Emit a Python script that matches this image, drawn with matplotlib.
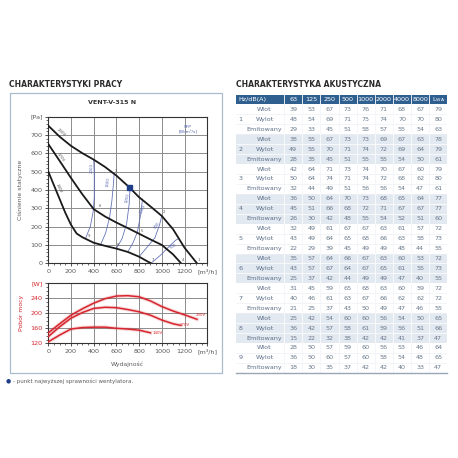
import matplotlib
matplotlib.use("Agg")
import matplotlib.pyplot as plt
from matplotlib.patches import Rectangle
from matplotlib.ticker import MultipleLocator

# ---------------- data ----------------
fan_230_q = [0, 100, 200, 300, 400, 500, 600, 700, 800, 900, 1000, 1100, 1200, 1310]
fan_230_p = [750, 690, 640, 600, 565, 525, 478, 422, 360, 310, 258, 185, 85, 0]
fan_170_q = [0, 100, 200, 300, 400, 500, 600, 700, 800, 900, 1000, 1100, 1170]
fan_170_p = [650, 558, 465, 376, 295, 255, 222, 192, 161, 130, 100, 48, 0]
fan_140_q = [0, 50, 100, 150, 200, 250, 300, 400, 500, 600, 700, 800, 860, 905]
fan_140_p = [500, 425, 350, 275, 210, 162, 142, 112, 95, 80, 62, 36, 15, 0]
fan_labels = ["230V", "170V", "140V"]

sfp_names = ["2000", "1500", "1250", "1000", "800", "500"]
sfp_q = [[330, 370, 395, 405, 405, 400],
         [460, 505, 540, 560, 572, 580],
         [600, 650, 690, 712, 720],
         [700, 745, 785, 815, 830],
         [800, 880, 940, 980, 1000],
         [905, 990, 1070, 1120, 1150]]
sfp_p = [[138, 200, 280, 360, 480, 565],
         [100, 165, 250, 340, 420, 487],
         [80, 135, 215, 320, 410],
         [62, 110, 170, 270, 350],
         [36, 95, 140, 210, 258],
         [0, 45, 95, 125, 135]]

best_q, best_p = 714, 414
op_nums = ["1", "2", "3", "4", "5", "6", "7", "8", "9"]
op_q = [1310, 1000, 580, 1170, 808, 440, 905, 600, 338]
op_p = [0, 260, 487, 0, 160, 292, 0, 80, 132]

pow_230_q = [0, 100, 200, 300, 400, 500, 600, 700, 800, 900, 1000, 1100, 1200, 1310]
pow_230_w = [148, 172, 195, 212, 227, 239, 246, 247, 244, 233, 218, 206, 196, 184]
pow_170_q = [0, 100, 200, 300, 400, 500, 600, 700, 800, 900, 1000, 1100, 1165]
pow_170_w = [138, 164, 187, 202, 213, 216, 215, 210, 204, 195, 182, 172, 168]
pow_140_q = [0, 100, 200, 300, 400, 500, 600, 700, 800, 900]
pow_140_w = [124, 142, 158, 162, 163, 163, 160, 158, 155, 148]

x_ticks = [0, 200, 400, 600, 800, 1000, 1200, 1400]
x_ticklabels = ["0", "200", "400", "600", "800", "1000", "1200", "[m³/h]"]
p_ticks = [0, 100, 200, 300, 400, 500, 600, 700, 800]
p_ticklabels = ["0", "100", "200", "300", "400", "500", "600", "700", "[Pa]"]
w_ticks = [120, 160, 200, 240, 280]
w_ticklabels = ["120", "160", "200", "240", "[W]"]

freq_headers = ["63", "125", "250", "500", "1000", "2000", "4000", "8000", r"L$_{\mathrm{WA}}$"]
row_kinds = ["Wlot", "Wylot", "Emitowany"]
groups = ["1", "2", "3", "4", "5", "6", "7", "8", "9"]
levels = [
    [39, 53, 67, 73, 76, 71, 68, 67, 79], [48, 54, 69, 71, 75, 74, 70, 70, 80], [29, 33, 45, 51, 58, 57, 55, 54, 63],
    [38, 55, 67, 73, 73, 69, 67, 63, 78], [49, 55, 70, 71, 74, 72, 69, 64, 79], [28, 35, 45, 51, 55, 55, 54, 50, 61],
    [42, 64, 71, 73, 74, 70, 67, 60, 79], [50, 64, 74, 71, 74, 72, 68, 62, 80], [32, 44, 49, 51, 56, 56, 54, 47, 61],
    [36, 50, 64, 70, 73, 68, 65, 64, 77], [45, 51, 66, 68, 72, 71, 67, 67, 77], [26, 30, 42, 48, 55, 54, 52, 51, 60],
    [32, 49, 61, 67, 67, 63, 61, 57, 72], [43, 49, 64, 65, 68, 66, 63, 58, 73], [22, 29, 39, 45, 49, 49, 48, 44, 55],
    [35, 57, 64, 66, 67, 63, 60, 53, 72], [43, 57, 67, 64, 67, 65, 61, 55, 73], [25, 37, 42, 44, 49, 49, 47, 40, 55],
    [31, 45, 59, 65, 68, 63, 60, 59, 72], [40, 46, 61, 63, 67, 66, 62, 62, 72], [21, 25, 37, 43, 50, 49, 47, 46, 55],
    [25, 42, 54, 60, 60, 56, 54, 50, 65], [36, 42, 57, 58, 61, 59, 56, 51, 66], [15, 22, 32, 38, 42, 42, 41, 37, 47],
    [28, 50, 57, 59, 60, 56, 53, 46, 64], [36, 50, 60, 57, 60, 58, 54, 48, 65], [18, 30, 35, 37, 42, 42, 40, 33, 47],
]

# ---------------- style ----------------
plt.rcParams['font.family'] = ['DejaVu Sans']
NARROW = ['Liberation Sans Narrow', 'DejaVu Sans']
W = H = 458.0
def fx(px): return px / W
def fy(py): return 1 - py / H

GRAY = '#5a5a5a'
RED = '#d7262e'
BLUE = '#5566b0'
NAVY = '#1f3c88'
HEAD = '#2f5f8f'

fig = plt.figure(figsize=(4.58, 4.58), dpi=100)
fig.patch.set_facecolor('white')

# titles
fig.text(fx(9), fy(85), "CHARAKTERYSTYKI PRACY", fontsize=5.5, fontweight='bold',
         family=NARROW, color='#2b2b2b', va='center', ha='left')
fig.text(fx(236), fy(85), "CHARAKTERYSTYKA AKUSTYCZNA", fontsize=5.5, fontweight='bold',
         family=NARROW, color='#2b2b2b', va='center', ha='left')

# outer frame of the left panel
fig.patches.append(Rectangle((fx(10), fy(373)), fx(222) - fx(10), fy(93) - fy(373),
                             transform=fig.transFigure, fill=False, ec='#a9bccd', lw=0.9))
fig.text(fx(112), fy(103), "VENT-V-315 N", fontsize=4.6, fontweight='bold', family=NARROW,
         color='#333333', ha='center', va='center')

def style_axis(ax, tick_color):
    for s in ax.spines.values():
        s.set_color('#333333')
        s.set_linewidth(0.8)
    ax.grid(True, which='major', color='#8c8c8c', lw=0.7)
    ax.set_axisbelow(True)
    ax.tick_params(axis='both', which='major', length=2, width=0.6, pad=2, labelsize=4.6,
                   colors='#333333')
    ax.tick_params(axis='both', which='minor', length=1.2, width=0.5, colors='#333333')
    ax.tick_params(axis='x', labelcolor=GRAY)
    ax.tick_params(axis='y', labelcolor=tick_color)

# ---- pressure chart ----
ax1 = fig.add_axes([fx(48.3), fy(263.3), fx(207.2) - fx(48.3), fy(116.5) - fy(263.3)])
ax1.set_xlim(0, 1400)
ax1.set_ylim(0, 800)
ax1.set_xticks(x_ticks)
ax1.set_xticklabels(x_ticklabels)
ax1.set_yticks(p_ticks)
ax1.set_yticklabels(p_ticklabels)
ax1.xaxis.set_minor_locator(MultipleLocator(50))
ax1.yaxis.set_minor_locator(MultipleLocator(20))
style_axis(ax1, GRAY)
ax1.set_ylabel("Ciśnienie statyczne", fontsize=4.4, color=GRAY, labelpad=5)

for qs, ps in zip(sfp_q, sfp_p):
    ax1.plot(qs, ps, color=BLUE, lw=0.6, alpha=0.9, zorder=3)
sfp_lab_pos = [(382, 520, 88), (525, 445, 84), (700, 355, 80), (830, 295, 66), (960, 205, 55), (1100, 95, 30)]
for name, (lq, lp, rot) in zip(sfp_names, sfp_lab_pos):
    ax1.text(lq, lp, name, fontsize=2.8, color=BLUE, rotation=rot, ha='center', va='center', zorder=4)
ax1.text(1230, 730, "SFP\n[W/m³/s]", fontsize=3.2, color=BLUE, ha='center', va='center',
         linespacing=1.3, zorder=4)

ax1.plot(fan_230_q, fan_230_p, color='#1a1a1a', lw=1.3, zorder=5)
ax1.plot(fan_170_q, fan_170_p, color='#1a1a1a', lw=1.3, zorder=5)
ax1.plot(fan_140_q, fan_140_p, color='#1a1a1a', lw=1.3, zorder=5)
for name, (lq, lp, rot) in zip(fan_labels, [(115, 712, -40), (110, 575, -53), (90, 410, -66)]):
    ax1.text(lq, lp, name, fontsize=2.8, color='#555555', rotation=rot, ha='center', va='center', zorder=6)
for n, q, p in zip(op_nums, op_q, op_p):
    ax1.text(q + 18, p + 18, n, fontsize=2.8, color='#555555', ha='center', va='center', zorder=6)
ax1.plot([best_q], [best_p], marker='s', ms=3.6, color=NAVY, zorder=7)

# ---- power chart ----
ax2 = fig.add_axes([fx(48.3), fy(343.3), fx(207.2) - fx(48.3), fy(283.3) - fy(343.3)])
ax2.set_xlim(0, 1400)
ax2.set_ylim(120, 280)
ax2.set_xticks(x_ticks)
ax2.set_xticklabels(x_ticklabels)
ax2.set_yticks(w_ticks)
ax2.set_yticklabels(w_ticklabels)
ax2.xaxis.set_minor_locator(MultipleLocator(50))
ax2.yaxis.set_minor_locator(MultipleLocator(10))
style_axis(ax2, RED)
ax2.set_ylabel("Pobór mocy", fontsize=4.4, color=RED, labelpad=5)
ax2.set_xlabel("Wydajność", fontsize=4.4, color=GRAY, labelpad=5)

for qs, ws, name, (lq, lw_) in zip([pow_230_q, pow_170_q, pow_140_q],
                                  [pow_230_w, pow_170_w, pow_140_w], fan_labels,
                                  [(1345, 195), (1200, 168), (965, 147)]):
    ax2.plot(qs, ws, color=RED, lw=2.6, alpha=0.18, zorder=4)
    ax2.plot(qs, ws, color=RED, lw=1.1, zorder=5)
    ax2.text(lq, lw_, name, fontsize=2.8, color=RED, ha='center', va='center', zorder=6)

# footnote
fig.text(fx(8), fy(381), "●", fontsize=4.2, color=NAVY, ha='center', va='center')
fig.text(fx(13), fy(381), "- punkt najwyższej sprawności wentylatora.", fontsize=4.0,
         color=GRAY, ha='left', va='center', family=NARROW)

# ---------------- acoustic table ----------------
n_rows = len(levels) + 1
first_w = 2.66
tot_w = first_w + len(freq_headers)
axt = fig.add_axes([fx(236), fy(372.8), fx(447.3) - fx(236), fy(94.5) - fy(372.8)])
axt.set_xlim(0, tot_w)
axt.set_ylim(n_rows, 0)
axt.axis('off')

TXT = '#6a7a8c'
LBL = '#5d7089'
TFS = 4.6
# header
axt.add_patch(Rectangle((0, 0), tot_w, 1, color=HEAD, lw=0))
axt.text(0.13, 0.5, "Hz/dB(A)", color='white', fontsize=TFS, ha='left', va='center', family=NARROW)
for j, h in enumerate(freq_headers):
    xc = first_w + j + 0.5
    axt.text(xc, 0.5, h, color='white', fontsize=TFS, ha='center', va='center', family=NARROW)
    axt.plot([first_w + j, first_w + j], [0, 1], color='white', lw=0.6)

for i, row in enumerate(levels):
    g = i // 3
    y0 = i + 1
    shaded = (g % 2 == 1)
    if shaded:
        axt.add_patch(Rectangle((0, y0), tot_w, 1, color='#e3e9f1', lw=0))
    axt.plot([0, tot_w], [y0 + 1, y0 + 1], color='white' if shaded else '#edf0f5', lw=0.5)
    for j in range(len(freq_headers)):
        axt.plot([first_w + j, first_w + j], [y0, y0 + 1],
                 color='white' if shaded else '#f1f3f7', lw=0.5)
    axt.text(1.57, y0 + 0.5, row_kinds[i % 3], color=LBL, fontsize=TFS, ha='center', va='center',
             family=NARROW)
    if i % 3 == 1:
        axt.text(0.26, y0 + 0.5, groups[g], color=LBL, fontsize=TFS, ha='center', va='center',
                 family=NARROW)
    for j, v in enumerate(row):
        axt.text(first_w + j + 0.5, y0 + 0.5, str(v), color=TXT, fontsize=TFS, ha='center',
                 va='center', family=NARROW)
axt.plot([0, tot_w], [n_rows, n_rows], color='#9aa6b6', lw=1.0, clip_on=False)

fig.savefig("out.png", dpi=100, facecolor='white')
